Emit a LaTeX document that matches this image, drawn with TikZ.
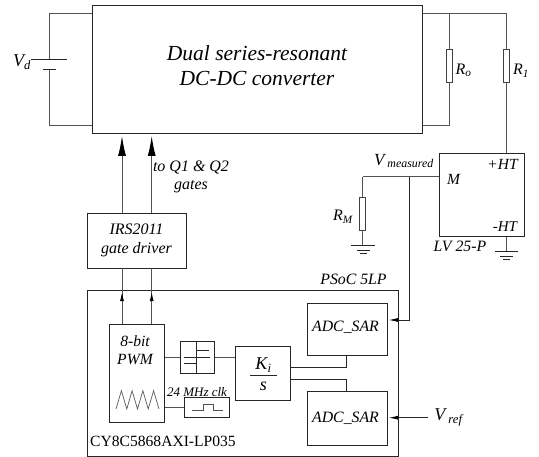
\documentclass[tikz,border=0pt]{standalone}
\usepackage{fontspec}
\setmainfont{Liberation Serif}
\usetikzlibrary{arrows.meta}
\tikzset{
  x=1pt,y=-1pt,
  box/.style={draw=black!85,line width=0.8pt,inner sep=0pt},
  wire/.style={draw=black!68,line width=1pt},
  res/.style={draw=black!75,fill=white,line width=0.9pt,minimum width=6pt,minimum height=33pt,inner sep=0pt},
  bigtip/.style={-{Latex[length=20pt,width=8pt,black]}},
  smalltip/.style={-{Latex[length=9.5pt,width=4pt,black]}},
  lab/.style={inner sep=0pt,font=\itshape,align=center},
}
\newcommand{\rect}[6][box]{\node[#1,minimum width=#4pt-#2pt,minimum height=#5pt-#3pt,anchor=north west] (#6) at (#2,#3) {};}
\begin{document}
\begin{tikzpicture}
\useasboundingbox (0,0) rectangle (539,457);
\rect{91.7}{5.3}{421.7}{133.3}{conv}
\rect{87.3}{290}{398.3}{456.3}{psoc}
\rect{87.3}{212.7}{185.7}{268}{drv}
\rect{109.3}{324}{163.7}{422.3}{pwm}
\rect{179.7}{341.3}{214}{373.3}{cmp}
\rect{234.7}{346}{290}{400.3}{ki}
\rect{184}{397.3}{229.3}{416.7}{clk}
\rect{307.3}{302.7}{386.7}{355.3}{adca}
\rect{307.3}{391}{386.7}{444.7}{adcb}
\rect{439.3}{153}{524}{236.5}{lv}
% texts
\node[lab,font=\itshape\fontsize{21.5}{25}\selectfont] at (257,66) (t1) {Dual series-resonant\\DC-DC converter};
\node[lab,font=\itshape\fontsize{16}{19}\selectfont] at (136.5,240.5) (t2) {IRS2011\\gate driver};
\node[lab,font=\itshape\fontsize{16}{18}\selectfont] at (191,177) (t3) {to Q1 \& Q2\\gates};
\node[lab,font=\itshape\fontsize{15.6}{18}\selectfont] at (135,350) (t4) {8-bit\\PWM};
\node[lab,font=\itshape\fontsize{13}{15}\selectfont] at (197,392) (t5) {24 MHz clk};
\node[lab,font=\itshape\fontsize{15.8}{18}\selectfont] at (345.5,327) (t6) {ADC\_SAR};
\node[lab,font=\itshape\fontsize{15.8}{18}\selectfont] at (345.5,418) (t7) {ADC\_SAR};
\node[lab,font=\itshape\fontsize{15.8}{18}\selectfont] at (353.5,279) (t8) {PSoC 5LP};
\node[inner sep=0pt,anchor=west,font=\fontsize{15.6}{18}\selectfont] at (90,441.5) (t9) {CY8C5868AXI-LP035};
\node[lab,font=\itshape\fontsize{18}{20}\selectfont] at (263.5,365) (t10) {K\textsubscript{i}};
\node[lab,font=\itshape\fontsize{18}{20}\selectfont] at (263.5,386) (t11) {s};
\node[lab,font=\itshape\fontsize{18}{20}\selectfont] at (22,62) (t12) {V\textsubscript{d}};
\node[lab,font=\itshape\fontsize{16}{18}\selectfont] at (463.5,70.5) (t13) {R\textsubscript{o}};
\node[lab,font=\itshape\fontsize{16}{18}\selectfont] at (521,70.5) (t14) {R\textsubscript{1}};
\node[lab,font=\itshape\fontsize{16}{18}\selectfont] at (343,217) (t15) {R\textsubscript{M}};
\node[lab,font=\itshape\fontsize{17}{19}\selectfont] at (404,161) (t16) {V\,\textsubscript{measured}};
\node[lab,font=\itshape\fontsize{15.5}{18}\selectfont] at (453.5,179) (t17) {M};
\node[lab,font=\itshape\fontsize{15.5}{18}\selectfont] at (502.5,164) (t18) {+HT};
\node[lab,font=\itshape\fontsize{15}{18}\selectfont] at (505,227) (t19) {-HT};
\node[lab,font=\itshape\fontsize{15.8}{18}\selectfont] at (460,246.5) (t20) {LV 25-P};
\node[lab,font=\itshape\fontsize{18}{20}\selectfont] at (448.5,417) (t21) {V\,\textsubscript{ref}};
% coordinates
\coordinate (vdt) at (49.5,59.5);
\coordinate (vdb) at (49.5,69);
\coordinate (ctl) at (49.5,14);
\coordinate (cbl) at (49.5,126);
\coordinate (rotj) at (449,14);
\coordinate (r1t) at (506.7,14);
\coordinate (robb) at (449,126);
\coordinate (mj) at (409.3,177);
\coordinate (rmt) at (362.7,177);
\coordinate (ga) at (362.7,245);
\coordinate (gb) at (506.5,251);
\coordinate (a1) at (122,212.7);
\coordinate (a2) at (151.7,212.7);
\coordinate (a1t) at (122,136);
\coordinate (a2t) at (151.7,136);
\coordinate (b1) at (122,324);
\coordinate (b2) at (151.7,324);
\coordinate (b1t) at (122,268);
\coordinate (b2t) at (151.7,268);
% source side
\draw[wire] (conv.west |- ctl) -- (ctl) -- (vdt);
\draw[wire] (conv.west |- cbl) -- (cbl) -- (vdb);
\draw[box] (31,59.5) -- (67,59.5);
\draw[box] (43,69) -- (56,69);
% output side
\draw[wire] (conv.east |- rotj) -- (r1t);
\node[res] (ro) at (449,65.5) {};
\node[res] (r1) at (506.7,65.5) {};
\draw[wire] (rotj) -- (ro.north);
\draw[wire] (ro.south) -- (robb) -- (conv.east |- robb);
\draw[wire] (r1t) -- (r1.north);
\draw[wire] (r1.south) -- (r1.south |- lv.north);
% measure
\draw[wire] (lv.west |- mj) -- (rmt);
\draw[wire] (rmt) -- ++(0,20);
\node[res] (rm) at (362.7,213.5) {};
\draw[wire] (rm.south) -- (ga);
\draw[box] (351.3,245) -- (375,245) (356.5,250) -- (369.5,250) (359.5,253.5) -- (366.5,253.5);
\draw[wire] (gb |- lv.south) -- (gb);
\draw[box] (495,251) -- (518,251) (500,256) -- (513,256) (503,259.5) -- (510,259.5);
% vmeas
\draw[box,smalltip,shorten >=1.2pt] (mj) -- (409.3,320) -- (adca.east |- 0,320);
\draw[box,smalltip,shorten >=1.2pt] (428,417.7) -- (adcb.east |- 0,417.7);
% gates
\draw[wire,bigtip] (a1) -- (a1t);
\draw[wire,bigtip] (a2) -- (a2t);
\draw[wire] (b1) -- (b1t);
\draw[wire] (b2) -- (b2t);
\draw[wire,smalltip] (b1) -- (122,291.7);
\draw[wire,smalltip] (b2) -- (151.7,291.7);
% internal
\draw[wire] (pwm.east |- cmp.west) -- (cmp.west);
\draw[wire] (cmp.east) -- (ki.west |- cmp.east);
\draw[wire] (pwm.east |- clk.west) -- (clk.west);
\draw[box] (196.7,341.3) -- (196.7,373.3);
\draw[box] (196.7,350.7) -- (209.3,350.7) (184,357.3) -- (210,357.3) (184,363.7) -- (196.7,363.7);
\draw[wire] (192,410.7) -- (203.3,410.7) -- (203.3,404.3) -- (213.3,404.3) -- (213.3,410.7) -- (222.7,410.7);
\draw[black!65,line width=0.7pt] (116,409) -- (121.4,390.7) -- (126.8,409) -- (132.1,390.7) -- (137.5,409) -- (142.9,390.7) -- (148.2,409) -- (153.6,390.7) -- (159,409);
\draw[box] (250,375) -- (277,375);
\draw[box] (ki.east |- 0,367.3) -- (346.7,367.3) -- (346.7,355.3);
\draw[box] (ki.east |- 0,379.3) -- (346.7,379.3) -- (346.7,391);
\end{tikzpicture}
\end{document}
